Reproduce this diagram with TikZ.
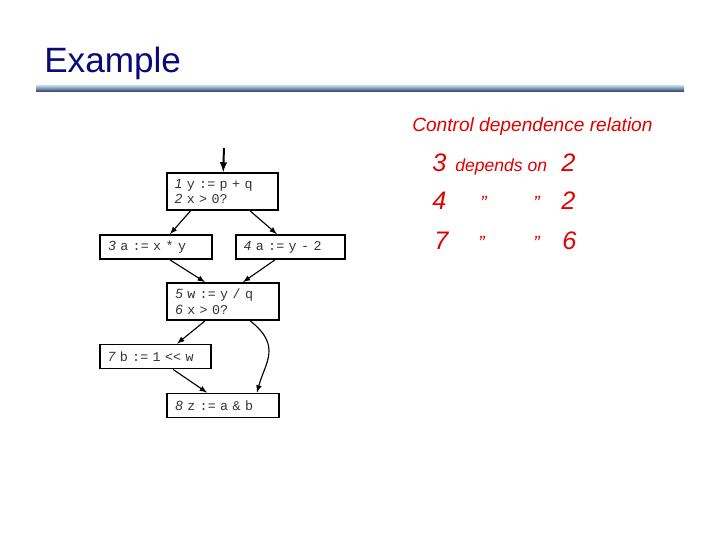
\documentclass[tikz,border=0pt]{standalone}
\usepackage{fontspec}
\setmainfont{Liberation Sans}
\setsansfont{Liberation Sans}
\setmonofont{Liberation Mono}
\definecolor{titleblue}{RGB}{10,10,120}
\definecolor{rulelight}{RGB}{200,225,235}
\definecolor{ruledark}{RGB}{60,80,125}
\definecolor{inkred}{RGB}{225,0,0}
\newcommand{\stmtno}[1]{{\sffamily\itshape #1}}
\begin{document}
\begin{tikzpicture}[x=0.025cm,y=-0.025cm,
    cfgbox/.style={draw,line width=1.3pt,inner xsep=0.2cm,inner ysep=0pt,
        text width=2.38cm,align=left,minimum height=0.6cm,
        font=\fontsize{9.5}{11}\selectfont\ttfamily,text=black!80},
    flow/.style={-latex,line width=0.8pt},
    ink/.style={text=inkred,anchor=base west,inner sep=0pt,
        font=\fontsize{13.6}{16}\selectfont\itshape},
    digit/.style={ink,font=\fontsize{18}{20}\selectfont\itshape}
]
\useasboundingbox (0,0) rectangle (720,540);

% title and rule
\node[anchor=base west,inner sep=0pt,text=titleblue,
      font=\fontsize{25}{28}\selectfont] (title) at (44,72) {Example};
\shade[top color=rulelight,bottom color=ruledark] (36,85) rectangle (684,91);

% flow graph
\node[cfgbox,minimum height=0.925cm] (b1) at (222.5,191.5)
    {\stmtno{1} y := p + q\\\stmtno{2} x > 0?};
\node[cfgbox] (b3) at (156,247) {\stmtno{3} a := x * y};
\node[cfgbox,text width=2.33cm] (b4) at (290.5,247) {\stmtno{4} a := y - 2};
\node[cfgbox,minimum height=0.925cm] (b5) at (223,301.5)
    {\stmtno{5} w := y / q\\\stmtno{6} x > 0?};
\node[cfgbox] (b7) at (155.5,356.5) {\stmtno{7} b := 1 << w};
\node[cfgbox] (b8) at (223,405.5) {\stmtno{8} z := a \& b};
\coordinate (entry) at (224,148);

\draw[flow,line width=1.4pt] (entry) -- (b1);
\draw[flow] ([xshift=-0.8cm]b1.south) -- ([xshift=0.35cm]b3.north);
\draw[flow] ([xshift=0.69cm]b1.south) -- ([xshift=-0.34cm]b4.north);
\draw[flow] ([xshift=0.35cm]b3.south) -- ([xshift=-0.45cm]b5.north);
\draw[flow] ([xshift=-0.39cm]b4.south) -- ([xshift=0.5cm]b5.north);
\draw[flow] ([xshift=-0.45cm]b5.south) -- ([xshift=0.54cm]b7.north);
\draw[flow] ([xshift=0.68cm]b5.south) .. controls +(32,25) and +(8,-30) .. ([xshift=0.85cm]b8.north);
\draw[flow] ([xshift=0.44cm]b7.south) -- ([xshift=-0.4cm]b8.north);

% handwritten notes
\node[ink] (cdr) at (412,131) {Control dependence relation};
\node[digit] (r1a) at (432,171) {3};
\node[ink,font=\fontsize{12.5}{15}\selectfont\itshape] (r1b) at (455,171) {depends on};
\node[digit] (r1c) at (561,171) {2};
\node[digit] (r2a) at (432,209) {4};
\node[ink] (r2b) at (480,209) {"};
\node[ink] (r2c) at (533,209) {"};
\node[digit] (r2d) at (561,209) {2};
\node[digit] (r3a) at (434,249) {7};
\node[ink] (r3b) at (478,249) {"};
\node[ink] (r3c) at (533,249) {"};
\node[digit] (r3d) at (562,249) {6};
\end{tikzpicture}
\end{document}
